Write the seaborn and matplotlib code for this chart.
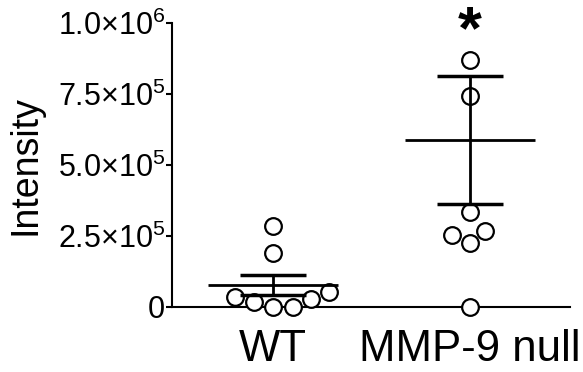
import matplotlib
matplotlib.use('Agg')
import matplotlib.pyplot as plt
import seaborn as sns
import pandas as pd
from matplotlib.ticker import FuncFormatter

# 数据
groups = ['WT', 'MMP-9 null']
wt_values = [2.85e5, 1.90e5, 0.34e5, 0.18e5, 0.0, 0.0, 0.27e5, 0.54e5]
mmp_values = [8.70e5, 7.44e5, 3.36e5, 2.54e5, 2.25e5, 2.68e5, 0.0]
means = [0.77e5, 5.88e5]
sems = [0.36e5, 2.24e5]
yticks = [0, 2.5e5, 5.0e5, 7.5e5, 1.0e6]

sns.set_style('ticks')
plt.rcParams['font.family'] = ['Liberation Sans', 'DejaVu Sans']
plt.rcParams['mathtext.default'] = 'regular'
for k in ['text.color', 'axes.labelcolor', 'xtick.color', 'ytick.color', 'axes.edgecolor']:
    plt.rcParams[k] = 'black'

df = pd.DataFrame({
    'group': [groups[0]] * len(wt_values) + [groups[1]] * len(mmp_values),
    'Intensity': wt_values + mmp_values,
})

fig = plt.figure(figsize=(5.83, 3.72), dpi=100)
ax = fig.add_axes([0.295, 0.175, 0.683, 0.763])

# 散点（空心圆）
sns.swarmplot(data=df, x='group', y='Intensity', order=groups, ax=ax,
              color='white', edgecolor='black', linewidth=1.6, size=12)
for coll in ax.collections:
    coll.set_clip_on(False)
    coll.set_zorder(3)

# 均值线 + SEM
pos = list(range(len(groups)))
ax.hlines(means, [p - 0.33 for p in pos], [p + 0.33 for p in pos],
          color='black', linewidth=2, zorder=4)
ax.errorbar(pos, means, yerr=sems, fmt='none', ecolor='black',
            elinewidth=2, capsize=24, capthick=2.5, zorder=4)

# 显著性标记
ax.text(1, 0.91e6, '*', ha='center', va='baseline', fontsize=44,
        fontweight='bold', clip_on=False)

def fmt(v, _):
    if v == 0:
        return '0'
    e = int(f'{v:e}'.split('e')[1])
    return f'{v / 10 ** e:.1f}×10$^{{{e}}}$'

ax.set_ylim(0, 1.0e6)
ax.set_xlim(-0.513, 1.508)
ax.set_yticks(yticks)
ax.yaxis.set_major_formatter(FuncFormatter(fmt))
ax.tick_params(axis='y', labelsize=22, width=1.5, length=4, pad=1)
ax.tick_params(axis='x', labelsize=31.5, width=1.5, length=4, pad=12)
ax.set_xlabel('')
ax.set_ylabel('Intensity', fontsize=27, labelpad=10)

sns.despine(ax=ax)
for s in ['left', 'bottom']:
    ax.spines[s].set_linewidth(1.5)

fig.savefig('out.png', dpi=100)
